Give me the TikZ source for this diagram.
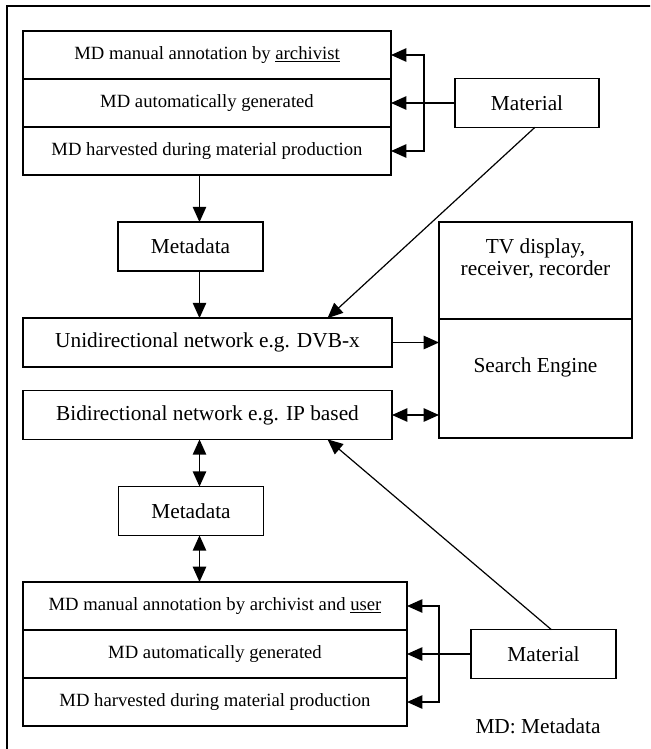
\documentclass[tikz,border=0pt]{standalone}
\usepackage{fontspec}
\setmainfont{Liberation Serif}
\usetikzlibrary{arrows.meta,positioning}

\tikzset{
  row/.style={draw, line width=1.2pt, outer sep=0pt, minimum width=276pt, minimum height=36pt, font=\fontsize{14}{16}\selectfont},
  brow/.style={row, minimum width=288pt},
  box/.style={draw, line width=1.2pt, outer sep=0pt, minimum height=36.5pt, font=\fontsize{16}{18}\selectfont},
  arr/.style={line width=1.2pt, -{Triangle[length=11.5pt,width=10pt]}},
  arrs/.style={line width=1.2pt, {Triangle[length=11.5pt,width=10pt]}-{Triangle[length=11.5pt,width=10pt]}},
  diag/.style={arr, line width=0.9pt}
}

\begin{document}
\begin{tikzpicture}[x=0.75pt,y=-0.75pt]
    \clip (0,0) rectangle (650,749);
    
    % outer frame
    \draw[line width=1.2pt] (7,6) rectangle (670,770);
    
    % upper metadata stack
    \node[row] (ua) at (207,55) {MD manual annotation by \underline{archivist}};
    \node[row, below=0pt of ua] (ub) {MD automatically generated};
    \node[row, below=0pt of ub] (uc) {MD harvested during material production};
    \node[box, minimum width=108pt] (umat) at (527,103) {Material};
    \node[box, minimum width=108.75pt] (umd) at (190.5,246.5) {Metadata};
    
    % networks
    \node[box, minimum width=276.75pt] (uni) at (207.5,342.5) {Unidirectional network e.g. DVB-x};
    \node[box, minimum width=276.75pt] (bi) at (207.5,415) {Bidirectional network e.g. IP based};
    
    % receiver side
    \node[draw, line width=1.2pt, outer sep=0pt, minimum width=144.75pt, minimum height=72.75pt,
          label={[yshift=8.6pt, align=center, font=\fontsize{16}{16.5}\selectfont]center:{TV display,\\receiver, recorder}}] (tv) at (535.5,270.5) {};
    \node[draw, line width=1.2pt, outer sep=0pt, minimum width=144.75pt, minimum height=89.25pt, below=0pt of tv,
          label={[yshift=8.6pt, font=\fontsize{16}{18}\selectfont]center:Search Engine}] (se) {};
    
    % lower metadata stack
    \node[box, minimum width=108.75pt] (lmd) at (191,511) {Metadata};
    \node[brow] (la) at (215,606) {MD manual annotation by archivist and \underline{user}};
    \node[brow, below=0pt of la] (lb) {MD automatically generated};
    \node[brow, below=0pt of lb] (lc) {MD harvested during material production};
    \node[box, minimum width=108.75pt] (lmat) at (543.5,654) {Material};
    \node[font=\fontsize{16}{18}\selectfont] (note) at (538,726) {MD: Metadata};
    
    % connectors
    \coordinate (ubus) at (424,0);
    \coordinate (lbus) at (439,0);
    \coordinate (vx) at (199.5,0);
    
    \draw[arr] (umat.west) -- (ub.east);
    \draw[arr] (ubus |- ub.east) |- (ua.east);
    \draw[arr] (ubus |- ub.east) |- (uc.east);
    \draw[arr] (uc.south -| vx) -- (umd.north -| vx);
    \draw[arr] (umd.south -| vx) -- (uni.north -| vx);
    \draw[diag] (umat.-72) -- ([xshift=90pt]uni.north);
    \draw[arr] (uni.east) -- (uni.east -| se.west);
    \draw[arrs] (bi.east) -- (bi.east -| se.west);
    \draw[arrs] (bi.south -| vx) -- (lmd.north -| vx);
    \draw[arrs] (lmd.south -| vx) -- (la.north -| vx);
    \draw[diag] (lmat.72) -- ([xshift=90pt]bi.south);
    \draw[arr] (lmat.west) -- (lb.east);
    \draw[arr] (lbus |- lb.east) |- (la.east);
    \draw[arr] (lbus |- lb.east) |- (lc.east);
    
\end{tikzpicture}
\end{document}
